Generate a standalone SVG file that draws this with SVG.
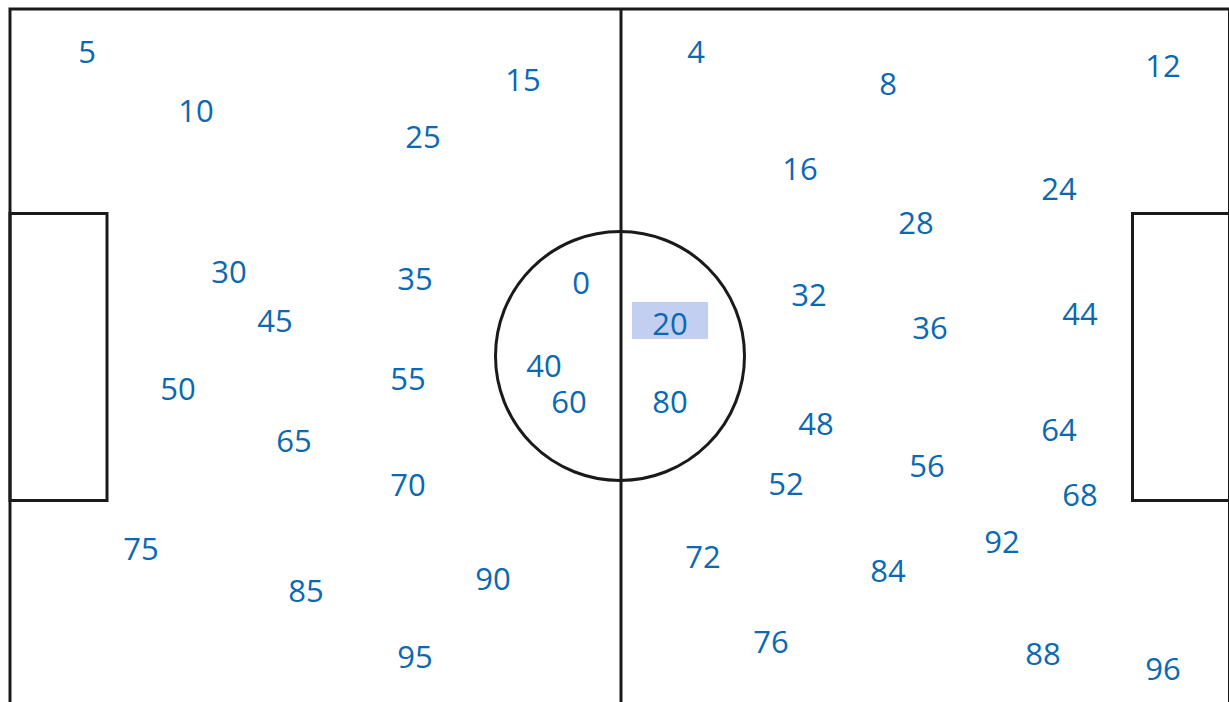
<svg xmlns="http://www.w3.org/2000/svg" width="1229" height="702" viewBox="0 0 1229 702">
<style>
.ln{fill:none;stroke:#1a1a1a;stroke-width:3}
.n{font-family:"Open Sans","Liberation Sans",sans-serif;font-size:31px;fill:#0b68b2;text-anchor:middle}
.hl{fill:#c2cff0}
</style>
<rect width="1229" height="702" fill="#ffffff"/>
<g id="pitch">
<rect class="ln" x="10" y="9" width="1219.5" height="720"/>
<line class="ln" x1="621" y1="9" x2="621" y2="702"/>
<circle class="ln" cx="620" cy="356" r="124.5"/>
<rect class="ln" x="10" y="213.5" width="97" height="287"/>
<rect class="ln" x="1132.5" y="213.5" width="100" height="287"/>
</g>
<g id="connectors"></g>
<g id="n0"><text class="n" x="581" y="294">0</text></g>
<g id="n4"><text class="n" x="696" y="63">4</text></g>
<g id="n5"><text class="n" x="87" y="63">5</text></g>
<g id="n8"><text class="n" x="888" y="95">8</text></g>
<g id="n10"><text class="n" x="196" y="122">10</text></g>
<g id="n12"><text class="n" x="1163" y="77">12</text></g>
<g id="n15"><text class="n" x="523" y="91">15</text></g>
<g id="n16"><text class="n" x="800" y="180">16</text></g>
<g id="n20"><rect class="hl" x="632" y="302" width="76" height="37"/><text class="n" x="670" y="335">20</text></g>
<g id="n24"><text class="n" x="1059" y="200">24</text></g>
<g id="n25"><text class="n" x="423" y="148">25</text></g>
<g id="n28"><text class="n" x="916" y="234">28</text></g>
<g id="n30"><text class="n" x="229" y="283">30</text></g>
<g id="n32"><text class="n" x="809" y="306">32</text></g>
<g id="n35"><text class="n" x="415" y="290">35</text></g>
<g id="n36"><text class="n" x="930" y="339">36</text></g>
<g id="n40"><text class="n" x="544" y="377">40</text></g>
<g id="n44"><text class="n" x="1080" y="325">44</text></g>
<g id="n45"><text class="n" x="275" y="332">45</text></g>
<g id="n48"><text class="n" x="816" y="435">48</text></g>
<g id="n50"><text class="n" x="178" y="400">50</text></g>
<g id="n52"><text class="n" x="786" y="495">52</text></g>
<g id="n55"><text class="n" x="408" y="390">55</text></g>
<g id="n56"><text class="n" x="927" y="477">56</text></g>
<g id="n60"><text class="n" x="569" y="413">60</text></g>
<g id="n64"><text class="n" x="1059" y="441">64</text></g>
<g id="n65"><text class="n" x="294" y="452">65</text></g>
<g id="n68"><text class="n" x="1080" y="506">68</text></g>
<g id="n70"><text class="n" x="408" y="496">70</text></g>
<g id="n72"><text class="n" x="703" y="568">72</text></g>
<g id="n75"><text class="n" x="141" y="560">75</text></g>
<g id="n76"><text class="n" x="771" y="653">76</text></g>
<g id="n80"><text class="n" x="670" y="413">80</text></g>
<g id="n84"><text class="n" x="888" y="582">84</text></g>
<g id="n85"><text class="n" x="306" y="602">85</text></g>
<g id="n88"><text class="n" x="1043" y="665">88</text></g>
<g id="n90"><text class="n" x="493" y="590">90</text></g>
<g id="n92"><text class="n" x="1002" y="553">92</text></g>
<g id="n95"><text class="n" x="415" y="668">95</text></g>
<g id="n96"><text class="n" x="1163" y="680">96</text></g>
</svg>
